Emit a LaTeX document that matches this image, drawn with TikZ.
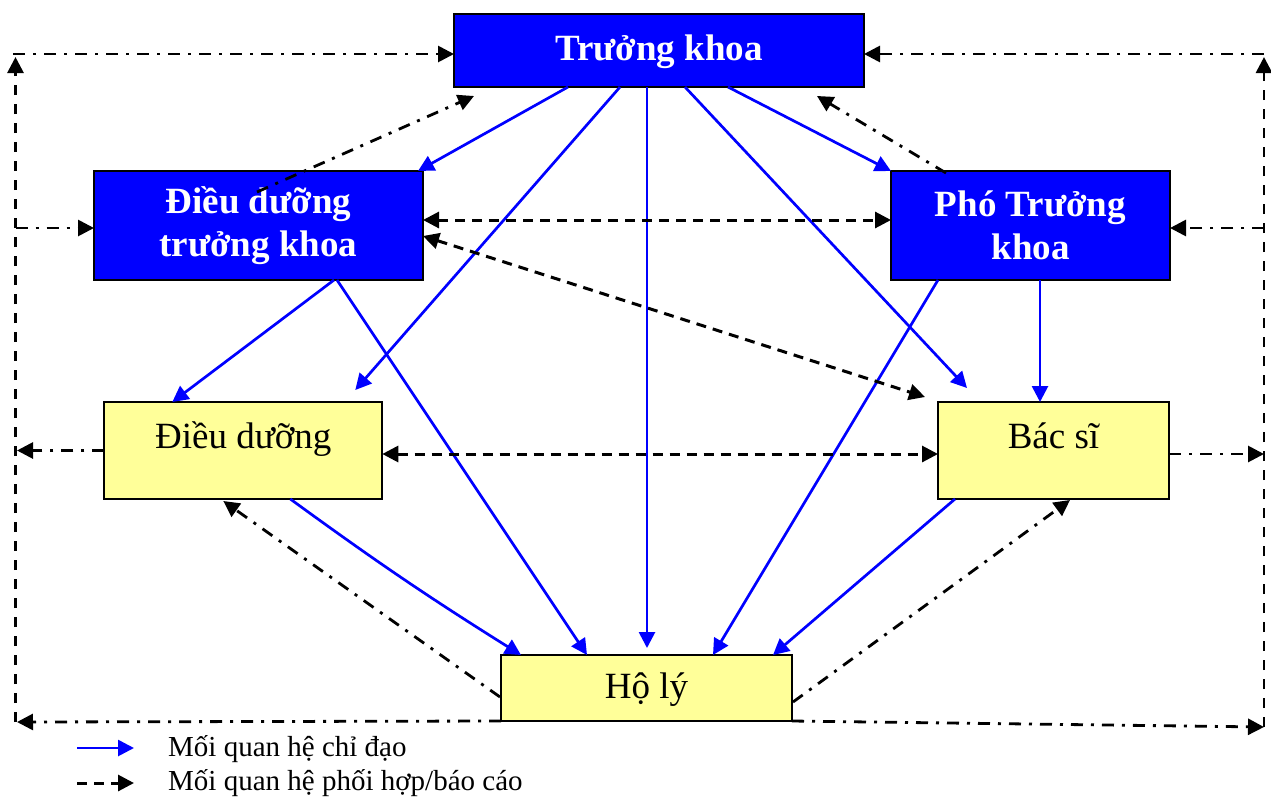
\documentclass[tikz,border=0pt]{standalone}
\usepackage{fontspec}
\setmainfont{Liberation Serif}
\usetikzlibrary{arrows.meta,calc}
\definecolor{myblue}{RGB}{0,0,255}
\definecolor{myyellow}{RGB}{255,255,153}
\begin{document}
\begin{tikzpicture}[x=1pt,y=-1pt,
  tip/.tip={Triangle[length=16pt,width=16pt]},
  box/.style={draw=black,line width=2pt,inner sep=0pt,outer sep=0pt},
  bluebox/.style={box,fill=myblue,text=white,font=\fontsize{37}{43}\selectfont\bfseries},
  yelbox/.style={box,fill=myyellow,text=black,font=\fontsize{37}{43}\selectfont},
  legtext/.style={inner sep=0pt,font=\fontsize{29}{34}\selectfont},
  leadarrow/.style={draw=myblue,line width=2.7pt,-tip},
  cooparrow/.style={draw=black,line width=3pt,dash pattern=on 10pt off 7pt,-tip},
  cooparrowtwo/.style={draw=black,line width=3pt,dash pattern=on 10pt off 7pt,tip-tip},
  rptarrow/.style={draw=black,line width=2.8pt,dash pattern=on 12pt off 8pt on 3pt off 8pt,-tip},
  framearrow/.style={draw=black,line width=2.8pt,dash pattern=on 10pt off 9pt,-tip}
]
\useasboundingbox (0,0) rectangle (1271,796);

% boxes
\node[bluebox,minimum width=410pt,minimum height=73pt,text height=28pt,text depth=9pt] (tk) at (659,50.5) {Trưởng khoa};
\node[bluebox,align=center,minimum width=329pt,minimum height=109pt] (ddtk) at (258.5,225.5) {Điều dưỡng\\trưởng khoa};
\node[bluebox,align=center,minimum width=279pt,minimum height=109pt] (ptk) at (1030.5,225.5) {Phó Trưởng\\khoa};
\node[yelbox,minimum width=278pt,minimum height=97pt,text height=26pt,text depth=31pt] (dd) at (243.3,450.5) {Điều dưỡng};
\node[yelbox,minimum width=231pt,minimum height=97pt,text height=26pt,text depth=31pt] (bs) at (1053.5,450.5) {Bác sĩ};
\node[yelbox,minimum width=291pt,minimum height=66pt,text height=28pt,text depth=8pt] (hl) at (646.5,688) {Hộ lý};

% frame coordinates
\coordinate (lc) at (13,54);
\coordinate (lup) at (15.5,57);
\coordinate (lbot) at (15.5,722);
\coordinate (lbotarrow) at (17,722);
\coordinate (lmidone) at (15.5,228);
\coordinate (lmidtwo) at (17,450.5);
\coordinate (rc) at (1264,54);
\coordinate (rup) at (1264,57);
\coordinate (rbot) at (1264,727);
\coordinate (rmidone) at (1264,228);
\coordinate (rmidtwo) at (1264,454);

% frame
\draw[framearrow] (lbot) -- (lup);
\draw[framearrow] (rbot) -- (rup);
\draw[rptarrow] (lc) -- ($(tk.north west)+(0,40)$);
\draw[rptarrow] (rc) -- ($(tk.north east)+(0,40)$);
\draw[rptarrow] (lmidone) -- ($(ddtk.north west)+(0,57)$);
\draw[rptarrow] (rmidone) -- ($(ptk.north east)+(0,57)$);
\draw[rptarrow] (dd.west) -- (lmidtwo);
\draw[rptarrow] ($(bs.north east)+(0,52)$) -- (rmidtwo);
\draw[rptarrow] (hl.south west) -- (lbotarrow);
\draw[rptarrow] (hl.south east) -- (rbot);

% leading relations (blue)
\draw[leadarrow] ($(tk.south west)+(114,0)$) -- ($(ddtk.north east)+(-5,0)$);
\draw[leadarrow] ($(tk.south west)+(166,0)$) -- ($(dd.north west)+(251,-12)$);
\draw[leadarrow] ($(tk.south west)+(193,0)$) -- ($(hl.north west)+(146,-7)$);
\draw[leadarrow] ($(tk.south west)+(231,0)$) -- ($(bs.north west)+(29,-14)$);
\draw[leadarrow] ($(tk.south west)+(274,0)$) -- (ptk.north west);
\draw[leadarrow] ($(ddtk.south west)+(240,0)$) -- ($(dd.north west)+(68,0)$);
\draw[leadarrow] ($(ddtk.south west)+(243,0)$) -- ($(hl.north west)+(86,0)$);
\draw[leadarrow] ($(dd.south west)+(186,0)$) to[bend right=2] ($(hl.north west)+(20,0)$);
\draw[leadarrow] ($(ptk.south west)+(47,0)$) -- ($(hl.north west)+(212,0)$);
\draw[leadarrow] ($(ptk.south west)+(149,0)$) -- ($(bs.north west)+(102,0)$);
\draw[leadarrow] ($(bs.south west)+(17,0)$) -- ($(hl.north west)+(272,0)$);

% cooperation (dashed)
\draw[cooparrowtwo] ($(ddtk.north east)+(0,49)$) -- ($(ptk.north west)+(0,49)$);
\draw[cooparrowtwo] ($(ddtk.north east)+(0,65)$) -- ($(bs.north west)+(-13,-5)$);
\draw[cooparrowtwo] ($(dd.north east)+(0,52)$) -- ($(bs.north west)+(0,52)$);

% reporting (dash-dot)
\draw[rptarrow] ($(ddtk.north west)+(163,21)$) -- ($(tk.south west)+(20,9)$);
\draw[rptarrow] ($(ptk.north west)+(55,2)$) -- ($(tk.south west)+(363,9)$);
\draw[rptarrow] ($(hl.south west)+(-1,-24)$) -- ($(dd.south west)+(119,2)$);
\draw[rptarrow] ($(hl.south east)+(1,-19)$) -- ($(bs.south west)+(132,1)$);

% legend
\coordinate (laa) at (77,748);
\coordinate (lab) at (134,748);
\coordinate (lba) at (77,783);
\coordinate (lbb) at (134,783);
\draw[leadarrow] (laa) -- (lab);
\draw[cooparrow] (lba) -- (lbb);
\node[legtext,anchor=base west] (legone) at (168,756) {Mối quan hệ chỉ đạo};
\node[legtext,anchor=base west] (legtwo) at (168,790) {Mối quan hệ phối hợp/báo cáo};
\end{tikzpicture}
\end{document}
